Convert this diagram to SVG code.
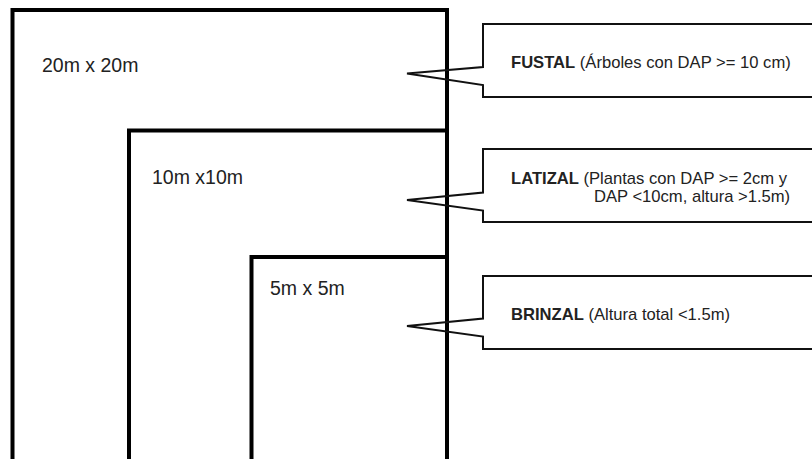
<svg xmlns="http://www.w3.org/2000/svg" width="812" height="459" viewBox="0 0 812 459">
  <style>
    .plot { fill: none; stroke: #000; stroke-width: 4; }
    .call { fill: none; stroke: #111; stroke-width: 2; stroke-linejoin: miter; }
    .dim { font-family: "Liberation Sans", Arial, sans-serif; font-size: 19.5px; fill: #222; }
    .lab { font-family: "Liberation Sans", Arial, sans-serif; font-size: 16.6px; fill: #222; }
    .b { font-weight: bold; }
  </style>
  <rect width="812" height="459" fill="#fff"/>
  <g id="plot-20m">
    <path class="plot" d="M12.5 470 V10 H447 V470"/>
    <text class="dim" x="42" y="71.5">20m x 20m</text>
  </g>
  <g id="plot-10m">
    <path class="plot" d="M129 470 V130.5 H447"/>
    <text class="dim" x="152" y="184">10m x10m</text>
  </g>
  <g id="plot-5m">
    <path class="plot" d="M251.5 470 V257 H447"/>
    <text class="dim" x="270" y="295">5m x 5m</text>
  </g>
  <g id="connectors">
    <path class="call" d="M483 67 V24 H820 V97 H483 V85 L407 73.5 Z"/>
    <path class="call" d="M483 192.5 V149 H820 V222 H483 V210.5 L407 200 Z"/>
    <path class="call" d="M483 318.5 V276 H820 V349 H483 V336.5 L407 326 Z"/>
  </g>
  <g id="fustal">
    <text class="lab" x="511" y="67.5"><tspan class="b">FUSTAL</tspan> (Árboles con DAP &gt;= 10 cm)</text>
  </g>
  <g id="latizal">
    <text class="lab" x="511" y="183.5"><tspan class="b">LATIZAL</tspan> (Plantas con DAP &gt;= 2cm y</text>
    <text class="lab" x="594" y="201.5">DAP &lt;10cm, altura &gt;1.5m)</text>
  </g>
  <g id="brinzal">
    <text class="lab" x="511" y="320">
      <tspan class="b">BRINZAL</tspan> (Altura total &lt;1.5m)</text>
  </g>
</svg>
